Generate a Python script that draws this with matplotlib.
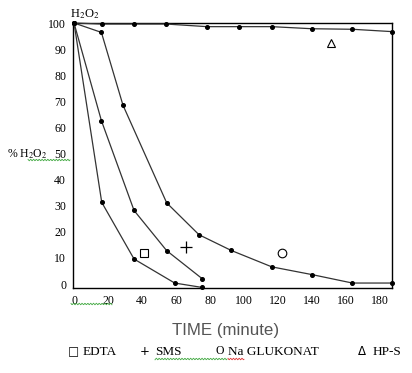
import matplotlib
matplotlib.use("Agg")
import matplotlib.pyplot as plt
import numpy as np

# ---- data ----
edta_t = [0, 16.3, 35.3, 59.2, 75.5]
edta_v = [100, 31.3, 9.6, 0.4, -1.3]

sms_t = [0, 16.1, 35.3, 54.5, 75.5]
sms_v = [100, 62.6, 28.2, 12.8, 2.0]

glu_t = [0, 16.1, 28.8, 54.5, 73.5, 92.4, 116.3, 140.2, 163.7, 187.0]
glu_v = [100, 96.4, 68.5, 31.1, 18.9, 12.9, 6.6, 3.6, 0.4, 0.4]

hps_t = [0, 16.3, 35.3, 54.3, 78.2, 97.2, 116.3, 140.0, 163.7, 187.0]
hps_v = [100, 99.6, 99.6, 99.6, 98.6, 98.6, 98.6, 97.8, 97.6, 96.7]

label_pts = {"s": (41.2, 11.9), "+": (65.9, 14.3), "o": (122.2, 11.9), "^": (151.0, 92.2)}

xticks = [0, 20, 40, 60, 80, 100, 120, 140, 160, 180]
yticks = [0, 10, 20, 30, 40, 50, 60, 70, 80, 90, 100]
ytick_labels = ["0", "10", "20", "30", "40", "50", "60", "70", "80", "90", "100"]
legend_symbols = ["\u25a1", "+", "O", "\u0394"]
legend_words = ["EDTA", "SMS", "Na GLUKONAT", "HP-S"]

serif = ["Liberation Serif", "DejaVu Serif"]

fig = plt.figure(figsize=(4.12, 3.73), dpi=100)
ax = fig.add_axes([73/412, 1-288/373, (392-73)/412, (288-23)/373])

for t, v in [(edta_t, edta_v), (sms_t, sms_v), (glu_t, glu_v), (hps_t, hps_v)]:
    ax.plot(t, v, color="#333333", lw=0.9, marker="o", ms=2.6, mfc="black", mec="black",
            clip_on=False, zorder=3)

for m, (x, y) in label_pts.items():
    if m == "+":
        ax.plot(x, y, marker="+", ms=8, color="black", mew=0.9)
    else:
        ax.plot(x, y, marker=m, ms=6.2, mfc="none", mec="black", mew=0.8)

ax.set_xlim(-0.6, 187)
ax.set_ylim(-1.5, 100)
ax.set_xticks(xticks)
ax.set_xticklabels([str(v) for v in xticks], fontfamily=serif, fontsize=8.5)
ax.set_yticks(yticks)
ax.set_yticklabels(ytick_labels, fontfamily=serif, fontsize=8.5)
ax.tick_params(length=0, pad=5)
for s in ax.spines.values():
    s.set_linewidth(1.0)
    s.set_color("black")

fig.text(85/412, 1-14/373, "H$_2$O$_2$", fontfamily=serif, fontsize=9, ha="center", va="center",
         math_fontfamily="stix")
fig.text(7/412, 1-154/373, "% H$_2$O$_2$", fontfamily=serif, fontsize=8.5, ha="left", va="center",
         math_fontfamily="stix")

fig.text(226/412, 1-331/373, "TIME (minute)", fontfamily=["Liberation Sans", "DejaVu Sans"],
         fontsize=12.2, color="#555555", ha="center", va="center")

sym_x = [68, 140, 216, 358]
word_x = [83, 155, 228, 373]
for x, s in zip(sym_x, legend_symbols):
    fam = serif if s == "O" else ["DejaVu Sans"]
    fig.text(x/412, 1-351.5/373, s, fontfamily=fam, fontsize=8.5, ha="left", va="center")
for x, s in zip(word_x, legend_words):
    fig.text(x/412, 1-352/373, s, fontfamily=serif, fontsize=9.5, ha="left", va="center")

# spell-check squiggles
def squiggle(x0, x1, y, color):
    xs = np.linspace(x0, x1, int((x1 - x0) * 1.5))
    ys = y + 0.8 * np.sin(xs * 2.2)
    fig.add_artist(plt.Line2D(xs / 412, 1 - ys / 373, color=color, lw=0.6))

squiggle(28, 70, 160, "#44aa44")
squiggle(71, 112, 304, "#44aa44")
squiggle(155, 227, 359, "#44aa44")
squiggle(228, 244, 359, "#dd3333")

fig.savefig("out.png", dpi=100)
